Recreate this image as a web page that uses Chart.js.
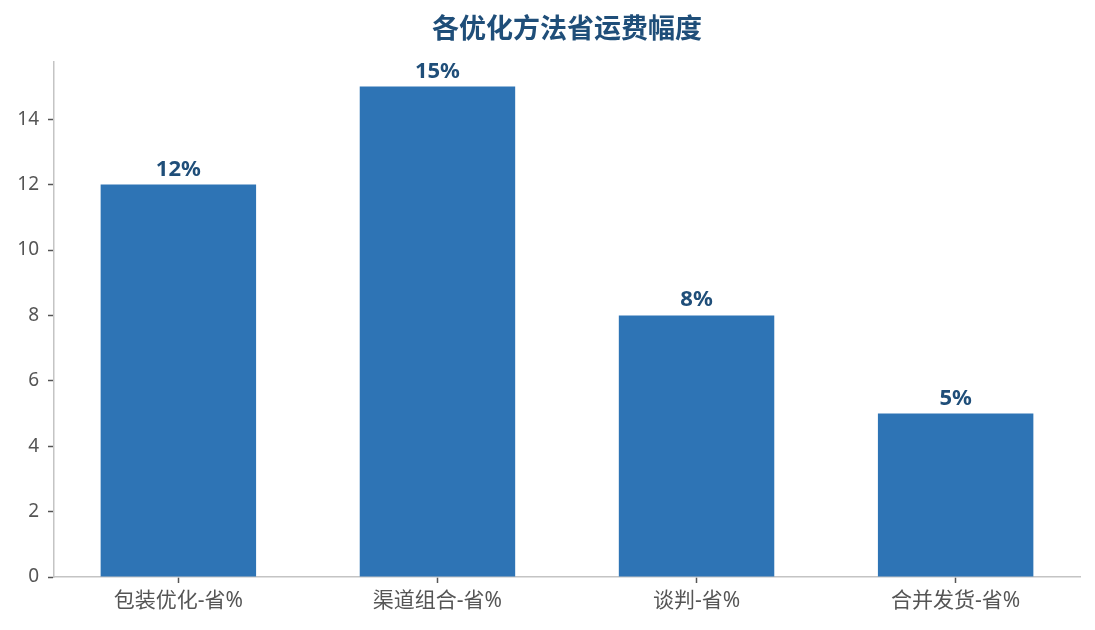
<!DOCTYPE html>
<html>
<head>
<meta charset="utf-8">
<script src="https://cdn.jsdelivr.net/npm/chart.js@4.4.1/dist/chart.umd.min.js"></script>
<style>
  html, body { margin: 0; padding: 0; background: #fff; }
  #wrap { width: 1095px; height: 630px; }
</style>
</head>
<body>
<div id="wrap"><canvas id="bar_chart"></canvas></div>
<script>
// chart data
const chart_title = "各优化方法省运费幅度";
const categories = ["包装优化-省%", "渠道组合-省%", "谈判-省%", "合并发货-省%"];
const savings = [12, 15, 8, 5];
const y_ticks = [0, 2, 4, 6, 8, 10, 12, 14];

const font_family = '"Noto Sans", "Noto Sans CJK SC", sans-serif';
const ctx = document.getElementById("bar_chart").getContext("2d");

// title centred over the plot area + "12%" labels above the bars
const extraText = {
  id: "extraText",
  afterDatasetsDraw(chart) {
    const c = chart.ctx;
    const area = chart.chartArea;
    c.save();
    c.fillStyle = "#1f4e79";
    c.textAlign = "center";
    c.textBaseline = "middle";
    c.font = 'bold 27px ' + font_family;
    c.fillText(chart_title, (area.left + area.right) / 2, 30);

    c.font = 'bold 22px ' + font_family;
    c.textBaseline = "alphabetic";
    const meta = chart.getDatasetMeta(0);
    meta.data.forEach((bar, i) => {
      c.fillText(savings[i] + "%", bar.x, bar.y - 9);
    });
    c.restore();
  }
};

new Chart(ctx, {
  type: "bar",
  data: {
    datasets: [{
      data: savings.map((v, i) => ({ x: i, y: v })),
      backgroundColor: "#2e74b5",
      borderWidth: 0,
      barPercentage: 0.6,
      categoryPercentage: 1.0
    }]
  },
  options: {
    responsive: true,
    maintainAspectRatio: false,
    animation: false,
    layout: { padding: { left: 0, right: 15, top: 62, bottom: 0 } },
    plugins: {
      legend: { display: false },
      tooltip: { enabled: false },
      title: { display: false }
    },
    scales: {
      x: {
        type: "linear",
        offset: false,
        min: -0.48,
        max: 3.48,
        afterBuildTicks: (scale) => { scale.ticks = categories.map((c, i) => ({ value: i })); },
        afterFit: (scale) => { scale.height = 53; },
        ticks: {
          callback: (value) => categories[value],
          color: "#555",
          font: { family: font_family, size: 21 },
          padding: 5,
          maxRotation: 0,
          autoSkip: false
        },
        grid: { offset: false, drawOnChartArea: false, drawTicks: true, tickLength: 6, tickColor: "#555", tickWidth: 1.5 },
        border: { color: "#c4c4c4", width: 1.5 }
      },
      y: {
        min: 0,
        max: 15.75,
        afterBuildTicks: (scale) => { scale.ticks = y_ticks.map(v => ({ value: v })); },
        afterFit: (scale) => { scale.width = 54; },
        ticks: {
          color: "#555",
          font: { family: font_family, size: 19 },
          padding: 9
        },
        grid: { drawOnChartArea: false, drawTicks: true, tickLength: 6, tickColor: "#555", tickWidth: 1.5 },
        border: { color: "#c4c4c4", width: 1.5 }
      }
    }
  },
  plugins: [extraText]
});
</script>
</body>
</html>
